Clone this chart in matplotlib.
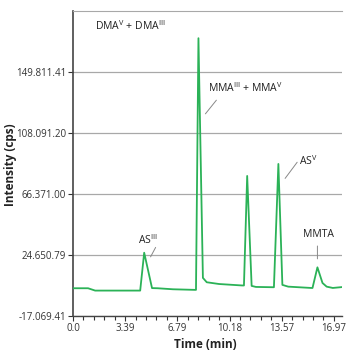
import matplotlib
matplotlib.use("Agg")
import matplotlib.pyplot as plt
from matplotlib.ticker import MultipleLocator

plt.rcParams['font.family'] = ['Open Sans', 'DejaVu Sans']
plt.rcParams['mathtext.default'] = 'regular'

# chromatogram (time in min, intensity in cps)
time_min = [0.0, 0.98, 1.44, 4.37, 4.63, 5.14, 5.5, 6.5, 7.9, 8.0, 8.16, 8.45, 8.7, 9.5,
            11.0, 11.12, 11.33, 11.62, 11.9, 13.0, 13.07, 13.36, 13.62, 14.0, 15.5,
            15.58, 15.9, 16.23, 16.5, 16.9, 17.5]
intensity = [1900, 1900, 300, 300, 26200, 2000, 1900, 1200, 800, 800, 172900, 9000, 6000, 4800,
             3800, 3800, 78700, 3500, 2800, 2600, 2600, 86900, 4200, 3000, 2100,
             2100, 16200, 5500, 3000, 2100, 2700]

y_ticks = [-17069.41, 24650.79, 66371.00, 108091.20, 149811.41]
y_labels = ['-17.069.41', '24.650.79', '66.371.00', '108.091.20', '149.811.41']
x_ticks = [0.0, 3.394, 6.788, 10.182, 13.576, 16.97]
x_labels = ['0.0', '3.39', '6.79', '10.18', '13.57', '16.97']

# label text, text position, leader start, leader end
peak_labels = ['DMA$^{V}$ + DMA$^{III}$', 'MMA$^{III}$ + MMA$^{V}$', 'AS$^{V}$', 'AS$^{III}$', 'MMTA']
label_pos = [(1.44, 181300), (8.81, 138900), (14.69, 88900), (4.85, 34900), (15.96, 39000)]
leader_from = [None, (9.44, 132000), (14.69, 89600), (5.46, 31500), (15.9, 32700)]
leader_to = [None, (8.5, 119700), (13.69, 75500), (4.96, 21700), (15.9, 20100)]
label_align = ['left', 'left', 'left', 'center', 'center']

fig = plt.figure(figsize=(3.5, 3.55), dpi=100)
ax = fig.add_axes([0.2086, 0.1099, 0.7686, 0.8592])

ax.plot(time_min, intensity, color='#2bb257', lw=1.3, zorder=3)

ax.set_xlim(0, 17.5)
ax.set_ylim(-17069.41, 191531.62)
ax.set_yticks(y_ticks)
ax.set_yticklabels(y_labels)
ax.set_xticks(x_ticks)
ax.set_xticklabels(x_labels)
ax.xaxis.set_minor_locator(MultipleLocator(0.6788))
ax.tick_params(axis='both', labelsize=7, colors='#333333', length=3.5, width=0.8, pad=1.5)
ax.tick_params(axis='x', which='minor', length=3, width=0.8, colors='#333333')
ax.grid(axis='y', color='#a8a8a8', lw=0.9)
ax.set_axisbelow(True)

ax.spines['right'].set_visible(False)
ax.spines['top'].set_color('#a8a8a8')
ax.spines['left'].set_color('#444444')
ax.spines['left'].set_linewidth(1.2)
ax.spines['bottom'].set_color('#444444')
ax.spines['bottom'].set_linewidth(1.0)

for i, txt in enumerate(peak_labels):
    ax.text(label_pos[i][0], label_pos[i][1], txt, fontsize=7.5, color='#222222',
            ha=label_align[i], va='center')
    if leader_from[i] is not None:
        ax.annotate('', xy=leader_to[i], xytext=leader_from[i],
                    arrowprops=dict(arrowstyle='-', color='#888888', lw=0.7))

ax.set_ylabel('Intensity (cps)', fontsize=8.5, fontweight='bold', color='#222222')
ax.set_xlabel('Time (min)', fontsize=8.5, fontweight='bold', color='#222222')
ax.yaxis.set_label_coords(-0.21, 0.495)
ax.xaxis.set_label_coords(0.49, -0.072)

fig.savefig('out.png', dpi=100)
